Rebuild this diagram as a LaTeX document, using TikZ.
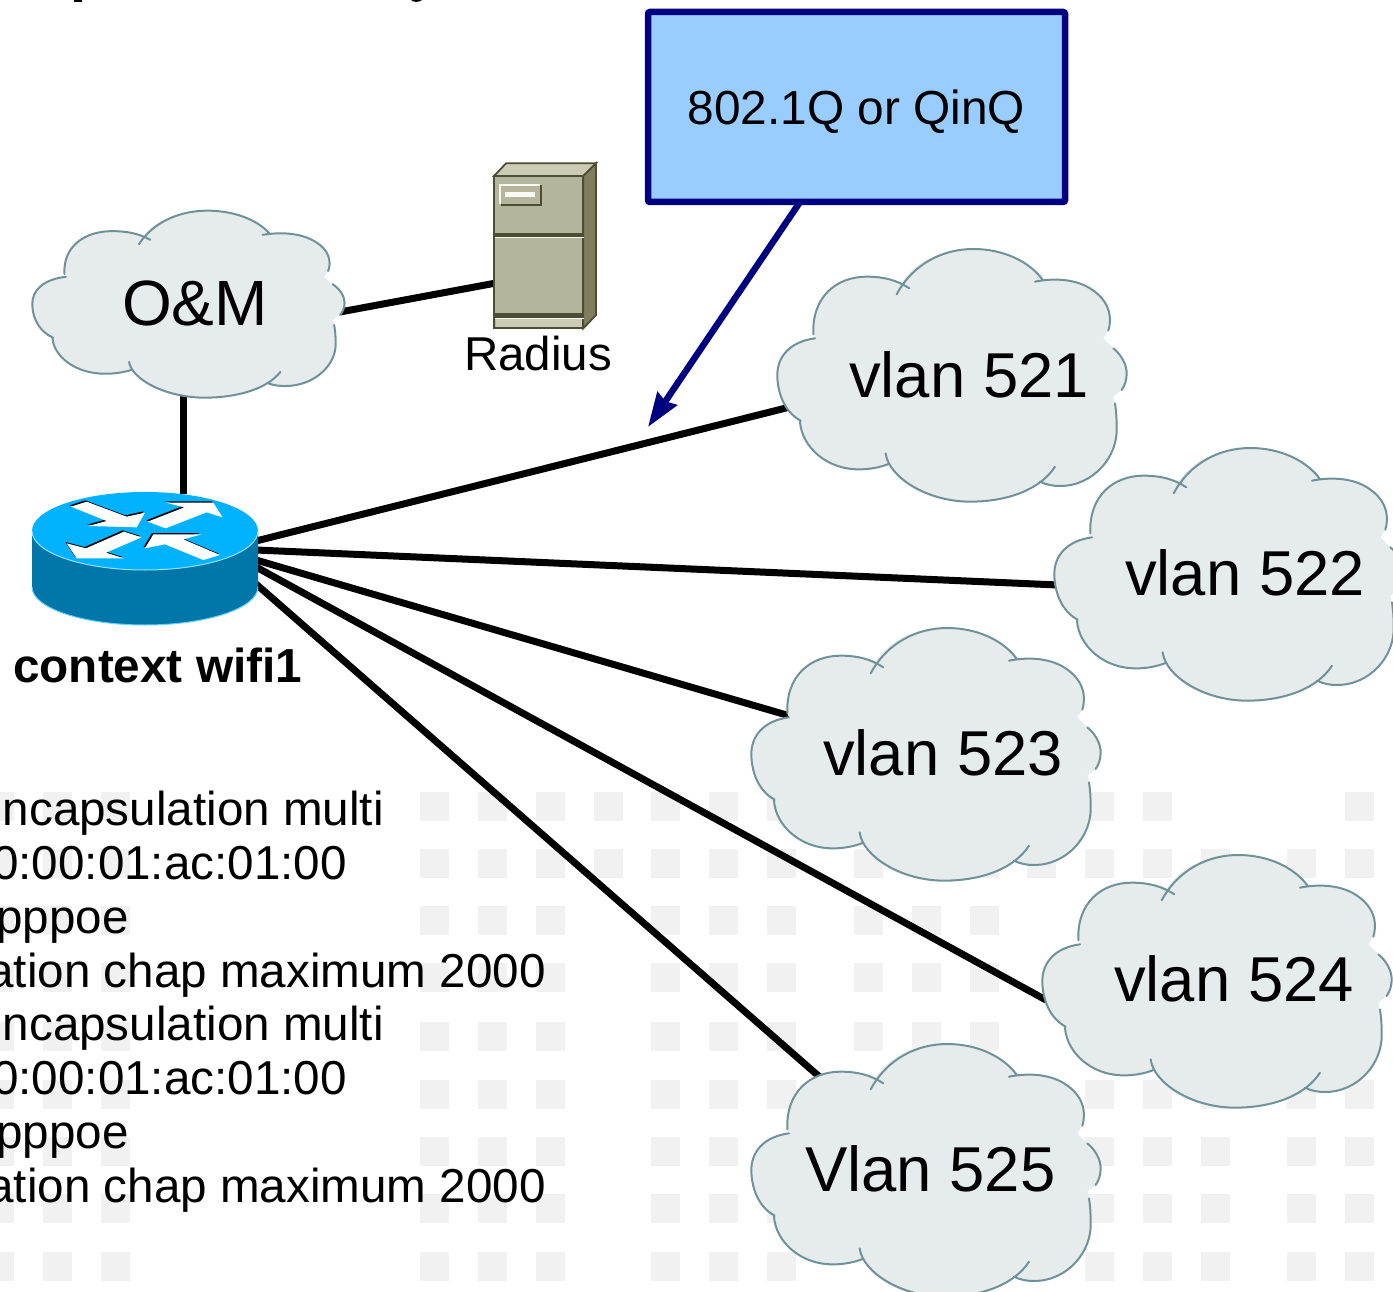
\documentclass[tikz,border=0pt]{standalone}
\usepackage{fontspec}
\setmainfont{Liberation Sans}
\usetikzlibrary{arrows.meta}
\pgfdeclarelayer{squares}
\pgfdeclarelayer{wires}
\pgfsetlayers{squares,wires,main}
\definecolor{cloudfill}{HTML}{E6ECEC}
\definecolor{cloudline}{HTML}{6F9298}
\definecolor{boxblue}{HTML}{99CCFF}
\definecolor{navyline}{HTML}{000080}
\definecolor{sqgray}{HTML}{F1F1F1}
\definecolor{rtop}{HTML}{00B2FF}
\definecolor{rside}{HTML}{0077A8}
\definecolor{srvfront}{HTML}{B5B59B}
\definecolor{srvtop}{HTML}{CCCCB5}
\definecolor{srvside}{HTML}{7F7F5F}
\definecolor{srvdark}{HTML}{4D4D33}
\tikzset{
  wire/.style={line width=7pt,black},
  bigtext/.style={inner sep=0pt,anchor=base west,font=\fontsize{63.4}{63.4}\selectfont},
  midtext/.style={inner sep=0pt,anchor=base west,font=\fontsize{47.5}{47.5}\selectfont},
  bodytext/.style={inner sep=0pt,anchor=base east,font=\fontsize{47.6}{47.6}\selectfont},
  sq/.style={fill=sqgray},
  cloudshape/.pic={
    \fill[cloudfill] (135,295) .. controls (60,305) and (20,350) .. (22,410)
      .. controls (24,470) and (50,520) .. (92,542)
      .. controls (95,620) and (170,690) .. (270,688)
      .. controls (300,688) and (330,682) .. (356,672)
      .. controls (400,750) and (490,785) .. (600,785)
      .. controls (690,785) and (770,760) .. (815,725)
      .. controls (830,735) and (850,738) .. (870,738)
      .. controls (970,738) and (1045,650) .. (1040,560)
      .. controls (1040,530) and (1038,510) .. (1035,490)
      -- (1030,470) -- (1055,450)
      .. controls (1065,430) and (1070,420) .. (1070,400)
      .. controls (1070,375) and (1055,345) .. (1030,325)
      -- (1000,295) -- (1015,272)
      .. controls (1025,240) and (1025,185) .. (960,145)
      .. controls (920,120) and (860,112) .. (820,122)
      .. controls (780,65) and (700,27) .. (610,27)
      .. controls (520,27) and (440,60) .. (395,128)
      .. controls (360,115) and (330,110) .. (290,110)
      .. controls (200,110) and (125,170) .. (130,283) -- cycle;
    \draw[cloudline,line width=2pt,line cap=round]
      (135,295) .. controls (60,305) and (20,350) .. (22,410) .. controls (24,470) and (50,520) .. (92,542)
      (90,545) .. controls (95,620) and (170,690) .. (270,688) .. controls (300,688) and (330,682) .. (356,672)
      (347,640) .. controls (355,710) and (470,785) .. (600,785) .. controls (710,785) and (810,750) .. (855,680)
      (810,725) .. controls (830,735) and (850,738) .. (870,738) .. controls (970,738) and (1045,650) .. (1040,560) .. controls (1040,530) and (1038,510) .. (1035,490)
      (1030,325) .. controls (1055,345) and (1070,375) .. (1070,400) .. controls (1070,420) and (1065,435) .. (1055,450)
      (795,125) .. controls (860,112) and (920,120) .. (960,145) .. controls (1025,185) and (1025,240) .. (1015,272)
      (820,122) .. controls (780,65) and (700,27) .. (610,27) .. controls (520,27) and (430,70) .. (380,163)
      (418,145) .. controls (380,120) and (340,110) .. (290,110) .. controls (200,110) and (125,170) .. (130,283);
  }
}
\begin{document}
\begin{tikzpicture}[x=1pt,y=-1pt]
\useasboundingbox (0,0) rectangle (1393,1292);

\begin{pgfonlayer}{squares}
  \fill[white] (0,0) rectangle (1393,1292);
  % left columns, every row
  \foreach \r in {792,849,906,963,1022,1080,1137,1194,1252}
    \foreach \c in {-15,43,101,420,478,536,651,709,767}
      \fill[sq] (\c,\r) rectangle ++(29,28.5);
  \foreach \r/\c in {792/594,849/594,
     849/854,906/854,963/854,1022/854,
     849/912,906/912,963/912,1022/912,
     849/970,906/970,963/970,1022/970,
     849/1027,792/1085,849/1085,792/1143,849/1143,849/1201,849/1287,792/1345,849/1345}
      \fill[sq] (\c,\r) rectangle ++(29,28.5);
  \foreach \r in {1080,1137,1194,1252}
    \foreach \c in {1085,1143,1201,1287,1345}
      \fill[sq] (\c,\r) rectangle ++(29,28.5);
\end{pgfonlayer}

% fragments of cropped text at the top edge
\fill[black] (74,0) rectangle (82,2);
\fill[black] (411,0) .. controls (413,2.5) and (419,2.5) .. (422,0) -- cycle;

% connector end points
\coordinate (omS) at (183,396);
\coordinate (omE) at (340,312);
\coordinate (radW) at (496,283);
\coordinate (rtN) at (183,494);
\coordinate (rtA) at (256,541);
\coordinate (rtB) at (256,550);
\coordinate (rtC) at (256,560);
\coordinate (rtD) at (256,567);
\coordinate (rtE) at (256,584);
\coordinate (c521) at (790,407);
\coordinate (c522) at (1058,585);
\coordinate (c523) at (790,716);
\coordinate (c524) at (1046,1000);
\coordinate (c525) at (822,1079);
\coordinate (boxOut) at (800,202);
\coordinate (lineTarget) at (648,427);

\begin{pgfonlayer}{wires}
  \draw[wire] (omS) -- (rtN);
  \draw[wire] (omE) -- (radW);
  \draw[wire] (rtA) -- (c521);
  \draw[wire] (rtB) -- (c522);
  \draw[wire] (rtC) -- (c523);
  \draw[wire] (rtD) -- (c524);
  \draw[wire] (rtE) -- (c525);
\end{pgfonlayer}

% clouds
\pic[xscale=1/3,yscale=1/3] at (770,240) {cloudshape};
\pic[xscale=1/3,yscale=1/3] at (1047,439) {cloudshape};
\pic[xscale=1/3,yscale=1/3] at (744,619) {cloudshape};
\pic[xscale=1/3,yscale=1/3] at (1035,846) {cloudshape};
\pic[xscale=1/3,yscale=1/3] at (744,1035) {cloudshape};
\pic[xscale=0.298,yscale=0.2467] at (25.7,204) {cloudshape};

\node[bigtext,font=\fontsize{64}{64}\selectfont] (om) at (122,326) {O\&M};
\node[bigtext] (v521) at (849,397) {vlan 521};
\node[bigtext] (v522) at (1125,595) {vlan 522};
\node[bigtext] (v523) at (823,775) {vlan 523};
\node[bigtext] (v524) at (1114,1001) {vlan 524};
\node[bigtext] (v525) at (805,1191) {Vlan 525};

% router
\fill[rside] (32,531) -- (32,587) arc[x radius=113,y radius=38,start angle=180,end angle=0] -- (258,531) -- cycle;
\draw[rtop!60!white,line width=1pt] (32,587) arc[x radius=113,y radius=38,start angle=180,end angle=0];
\fill[rtop] (145,531) ellipse[x radius=113,y radius=39];
\draw[rtop!40!white,line width=1pt] (32,531) arc[x radius=113,y radius=39,start angle=180,end angle=0];
\begin{scope}[shift={(0,450)},xscale=1/3,yscale=1/3]
  \foreach \off/\col in {-4/black,0/white}{
    \begin{scope}[shift={(\off,\off)}]
    \fill[\col] (213,170) -- (260,155) -- (380,200) -- (435,188) -- (410,232) -- (265,228) -- (320,213) -- cycle;
    \fill[\col] (443,215) -- (553,172) -- (498,158) -- (640,158) -- (668,202) -- (620,187) -- (497,235) -- cycle;
    \fill[\col] (425,262) -- (372,245) -- (258,295) -- (200,280) -- (230,325) -- (372,325) -- (318,308) -- cycle;
    \fill[\col] (435,295) -- (460,253) -- (605,253) -- (550,268) -- (660,315) -- (610,330) -- (495,283) -- cycle;
    \end{scope}
  }
\end{scope}
\node[midtext,font=\bfseries\fontsize{47.7}{47.7}\selectfont] (ctx) at (13,682) {context wifi1};

% server
\begin{scope}[shift={(470,150)},xscale=1/3,yscale=1/3]
  \draw[srvdark,line width=1.8pt,fill=srvtop] (72,78) -- (108,40) -- (378,40) -- (340,78) -- cycle;
  \draw[srvdark,line width=1.8pt,fill=srvside] (340,78) -- (378,40) -- (378,495) -- (340,535) -- cycle;
  \draw[srvdark,line width=2pt,fill=srvfront] (72,78) rectangle (340,535);
  \fill[srvdark] (74,249) rectangle (338,261);
  \fill[white!90!srvfront] (74,261) rectangle (342,265);
  \fill[srvdark] (74,490) rectangle (338,503);
  \fill[white!90!srvfront] (74,503) rectangle (342,507);
  \fill[srvtop] (77,507) rectangle (336,531);
  \fill[srvdark] (92,106) rectangle (216,168);
  \fill[white!90!srvfront] (87,101) rectangle (210,162);
  \fill[srvfront] (93,108) rectangle (210,162);
  \fill[white!90!srvfront] (105,125) rectangle (195,142);
\end{scope}
\node[midtext] (radius) at (464,370) {Radius};

% 802.1Q box and arrow
\node[draw=navyline,fill=boxblue,line width=6.5pt,rounded corners=2pt,
      minimum width=417pt,minimum height=190pt,inner sep=0pt,
      font=\fontsize{47.8}{47.8}\selectfont] (box) at (856.5,107) {\raisebox{0pt}[\height][0pt]{802.1Q or QinQ}};
\draw[navyline,line width=6.5pt,-{Stealth[length=34pt,width=23pt,inset=3pt]}] (boxOut) -- (lineTarget);

% cropped configuration text
\node[bodytext] (t1) at (384,825) {ncapsulation multi};
\node[bodytext] (t2) at (347,879) {0:00:01:ac:01:00};
\node[bodytext] (t3) at (129,933) {pppoe};
\node[bodytext] (t4) at (546,987) {ation chap maximum 2000};
\node[bodytext] (t5) at (384,1040) {ncapsulation multi};
\node[bodytext] (t6) at (347,1094) {0:00:01:ac:01:00};
\node[bodytext] (t7) at (129,1148) {pppoe};
\node[bodytext] (t8) at (546,1202) {ation chap maximum 2000};
\end{tikzpicture}
\end{document}
